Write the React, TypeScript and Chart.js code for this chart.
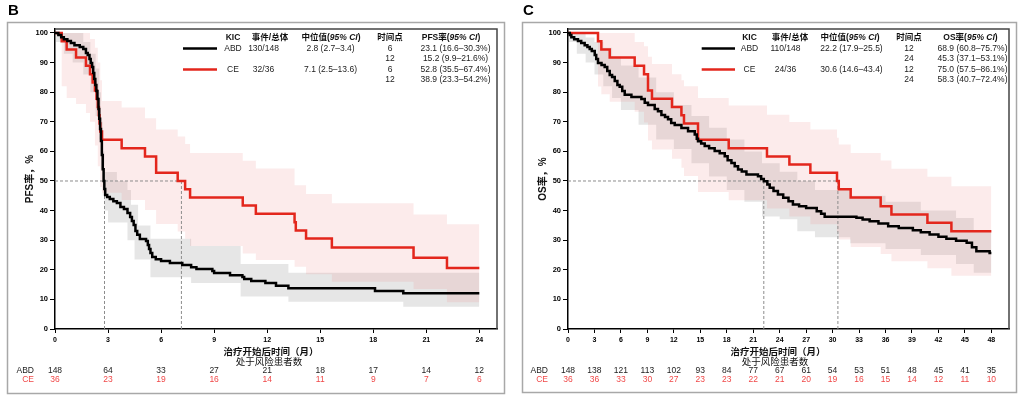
import React, { useEffect, useRef } from 'react';
import { Chart, registerables } from 'chart.js';
Chart.register(...registerables);

const FAM = "'Liberation Sans', 'Noto Sans CJK SC', sans-serif";
const RED = '#e3261c';
const RED_TXT = '#f04848';
const PINK = 'rgba(235,110,110,0.14)';
const GRAY = 'rgba(128,128,128,0.2)';

// ---------- Panel B : PFS ----------
const pfsAbdT = [0, 0.19, 0.35, 0.5, 0.7, 0.9, 1.1, 1.4, 1.6, 1.75, 1.85, 1.95, 2.02, 2.1, 2.16, 2.22, 2.28, 2.34, 2.4, 2.46, 2.5, 2.55, 2.6, 2.65, 2.7, 2.75, 2.79, 2.84, 2.95, 3.1, 3.3, 3.5, 3.7, 3.9, 4.1, 4.25, 4.35, 4.45, 4.55, 4.65, 4.8, 5.15, 5.25, 5.32, 5.4, 5.5, 5.7, 6.0, 6.5, 7.2, 7.7, 8.0, 8.9, 9.0, 9.9, 10.6, 10.7, 11.1, 11.9, 12.5, 13.2, 18.1, 19.7, 24];
const pfsAbdS = [100, 99.3, 98.6, 97.9, 97.3, 96.6, 95.9, 95.3, 94.6, 93.2, 92.6, 91.2, 89.9, 88.5, 86.5, 84.5, 82.4, 80.4, 77.7, 74.3, 71.0, 67.6, 63.5, 58.8, 54.0, 50.0, 47.3, 45.3, 44.6, 43.9, 43.2, 42.6, 41.2, 40.5, 39.2, 37.8, 36.5, 35.1, 33.1, 31.8, 30.4, 29.7, 28.4, 27.0, 25.7, 24.3, 23.6, 23.0, 22.3, 21.6, 20.9, 20.3, 19.6, 18.9, 18.2, 17.6, 16.9, 16.2, 15.5, 14.6, 13.8, 12.8, 12.1, 12.1];
const pfsCeT = [0, 0.38, 0.66, 1.19, 1.75, 1.98, 2.13, 2.26, 2.35, 2.42, 2.48, 2.52, 2.56, 2.66, 3.77, 5.09, 5.72, 6.94, 7.36, 7.64, 10.62, 11.36, 13.55, 13.62, 14.2, 15.66, 20.28, 22.17, 24];
const pfsCeS = [100, 97.2, 94.4, 91.7, 88.9, 86.1, 83.3, 80.6, 77.8, 75.0, 72.2, 69.4, 66.7, 63.9, 61.1, 58.3, 52.8, 50.0, 47.2, 44.4, 41.7, 38.9, 36.1, 33.3, 30.6, 27.5, 24.1, 20.6, 20.6];
const pfsAbdBandT = [0, 0.5, 1.0, 1.6, 2.0, 2.3, 2.5, 2.6, 2.7, 2.8, 3.0, 3.5, 4.1, 4.3, 4.5, 4.7, 5.4, 7.7, 10.5, 13.2, 19.7, 24];
const pfsAbdUpper = [100, 100, 100, 97, 93, 88, 80, 70, 60, 53, 53, 50, 47, 42, 42, 35, 30.5, 28, 22, 19, 19, 19];
const pfsAbdLower = [97, 93, 90, 86, 80, 72, 64, 54, 45, 40, 36, 36, 30, 30, 23.5, 23.5, 17.5, 15.5, 11, 9.2, 7.5, 7.5];
const pfsCeBandT = [0, 0.38, 0.66, 1.19, 1.75, 1.98, 2.26, 2.42, 2.56, 2.66, 3.77, 5.09, 5.72, 6.94, 7.36, 7.64, 10.62, 11.36, 13.55, 14.2, 15.66, 20.28, 22.17, 24];
const pfsCeUpper = [100, 100, 100, 100, 100, 98, 95, 90, 84, 77, 74.8, 71.2, 67.4, 65, 62.5, 59.5, 56.8, 54.2, 48.6, 45.6, 42.5, 38.7, 35.4, 35.4];
const pfsCeLower = [100, 82, 78, 76, 73, 70, 62, 55, 48, 46, 43.6, 40.2, 35.5, 32.9, 30.5, 28, 25.5, 23.3, 21, 18.5, 16, 13.5, 9, 9];
const pfsMedians = [2.8, 7.15];
const pfsRiskTimes = [0, 3, 6, 9, 12, 15, 18, 21, 24];
const pfsRiskAbd = [148, 64, 33, 27, 21, 18, 17, 14, 12];
const pfsRiskCe = [36, 23, 19, 16, 14, 11, 9, 7, 6];
const pfsHeaders = ['KIC', '事件/总体', '中位值', '时间点', 'PFS率'];
const pfsEvents = ['130/148', '32/36'];
const pfsMedianTxt = ['2.8 (2.7–3.4)', '7.1 (2.5–13.6)'];
const pfsTimepoints = [['6', '12'], ['6', '12']];
const pfsRates = [['23.1 (16.6–30.3%)', '15.2 (9.9–21.6%)'], ['52.8 (35.5–67.4%)', '38.9 (23.3–54.2%)']];

// ---------- Panel C : OS ----------
const osAbdT = [0, 0.2, 0.38, 0.7, 1.13, 1.5, 1.89, 2.2, 2.46, 2.7, 3.03, 3.2, 3.4, 3.8, 4.16, 4.45, 4.73, 5.0, 5.3, 5.6, 5.86, 6.15, 6.43, 7.19, 8.32, 8.7, 9.07, 9.83, 10.2, 10.59, 11.0, 11.34, 11.7, 12.1, 12.86, 13.61, 14.37, 14.6, 14.74, 15.1, 15.5, 16.0, 16.63, 17.2, 17.77, 18.1, 18.53, 18.9, 19.28, 19.7, 20.23, 21.54, 21.9, 22.2, 22.6, 22.87, 23.3, 23.8, 24.4, 25.0, 25.5, 26.2, 27.0, 28.2, 28.7, 29.1, 32.7, 33.4, 34.2, 35.2, 36.3, 37.5, 39.1, 40.0, 41.0, 42.0, 42.9, 44.0, 45.2, 45.8, 46.3, 47.8, 48];
const osAbdS = [100, 99.3, 98.6, 97.9, 97.3, 96.6, 95.9, 95.3, 94.6, 93.9, 92.6, 91.2, 89.9, 89.2, 88.5, 87.2, 85.8, 85.1, 83.8, 82.4, 81.8, 80.4, 79.1, 78.4, 77.7, 76.4, 75.7, 74.3, 73.6, 72.3, 71.6, 70.9, 69.6, 68.9, 67.9, 66.8, 65.7, 64.3, 63.4, 62.7, 61.8, 61.1, 60.1, 59.4, 58.4, 57.0, 56.1, 55.0, 53.9, 53.2, 52.2, 51.6, 50.7, 49.9, 48.8, 47.7, 46.6, 45.4, 44.3, 43.2, 42.1, 41.5, 40.9, 39.8, 38.9, 37.9, 37.6, 37.0, 36.4, 35.6, 34.7, 34.1, 33.4, 32.7, 31.9, 31.2, 30.5, 29.8, 29.1, 27.6, 26.3, 25.7, 25.7];
const osCeT = [0, 3.4, 3.78, 4.73, 7.56, 8.62, 9.07, 9.52, 11.79, 12.86, 13.15, 14.74, 18.22, 22.56, 25.1, 27.48, 30.5, 30.7, 32.05, 35.45, 36.67, 40.75, 43.47, 48];
const osCeS = [100, 97.2, 94.4, 91.7, 88.9, 86.1, 80.6, 77.8, 75.0, 72.2, 69.4, 63.9, 61.1, 58.3, 55.6, 52.8, 50.0, 47.2, 44.4, 41.5, 38.7, 35.9, 33.0, 33.0];
const osAbdBandT = [0, 1, 2, 3, 4, 5, 6, 8, 10, 12, 14, 16, 18, 20, 22, 24, 26, 28, 32, 36, 40, 44, 46, 48];
const osAbdUpper = [100, 100, 98.5, 97, 95, 92, 89, 85, 80, 75.7, 72, 68, 64, 60, 56, 53.1, 50, 47, 45, 43, 40, 37.5, 33, 33];
const osAbdLower = [97, 93, 90, 86, 82, 78, 74, 69, 64, 60.8, 56, 51.5, 47, 43, 38, 37.1, 33, 31, 29, 27, 25, 22, 19, 19];
const osCeBandT = [0, 3.4, 3.78, 4.73, 7.56, 8.62, 9.07, 9.52, 11.79, 12.86, 13.15, 14.74, 18.22, 22.56, 25.1, 27.48, 30.5, 30.7, 32.05, 35.45, 36.67, 40.75, 43.47, 48];
const osCeUpper = [100, 100, 100, 100, 97, 95.5, 92, 89.5, 86.1, 84, 82, 78, 75.5, 72.4, 69.9, 67.4, 64.6, 62.3, 59.5, 56.9, 54.1, 51.4, 48.2, 48.2];
const osCeLower = [100, 81.9, 79.3, 76.8, 73.4, 69.8, 63.7, 60.6, 57.5, 54.5, 51.7, 46.3, 43.5, 40.7, 38, 35.4, 32.7, 30.2, 27.7, 25.3, 22.9, 20.5, 18, 18];
const osMedians = [22.2, 30.6];
const osRiskTimes = [0, 3, 6, 9, 12, 15, 18, 21, 24, 27, 30, 33, 36, 39, 42, 45, 48];
const osRiskAbd = [148, 138, 121, 113, 102, 93, 84, 77, 67, 61, 54, 53, 51, 48, 45, 41, 35];
const osRiskCe = [36, 36, 33, 30, 27, 23, 23, 22, 21, 20, 19, 16, 15, 14, 12, 11, 10];
const osHeaders = ['KIC', '事件/总体', '中位值', '时间点', 'OS率'];
const osEvents = ['110/148', '24/36'];
const osMedianTxt = ['22.2 (17.9–25.5)', '30.6 (14.6–43.4)'];
const osTimepoints = [['12', '24'], ['12', '24']];
const osRates = [['68.9 (60.8–75.7%)', '45.3 (37.1–53.1%)'], ['75.0 (57.5–86.1%)', '58.3 (40.7–72.4%)']];

const groups = ['ABD', 'CE'];
const xTitle = '治疗开始后时间（月）';
const riskTitle = '处于风险患者数';

const zip = (t: number[], v: number[]) => t.map((x, i) => ({ x, y: v[i] }));

type Cfg = any;

const pfsCfg: Cfg = {
  letter: 'B', yTitle: 'PFS率，%', xMax: 25, yAxisW: 55,
  frame: [7.5, 22.5, 497, 371],
  abdT: pfsAbdT, abdS: pfsAbdS, ceT: pfsCeT, ceS: pfsCeS,
  abdBT: pfsAbdBandT, abdU: pfsAbdUpper, abdL: pfsAbdLower,
  ceBT: pfsCeBandT, ceU: pfsCeUpper, ceL: pfsCeLower,
  medians: pfsMedians, riskT: pfsRiskTimes, riskAbd: pfsRiskAbd, riskCe: pfsRiskCe,
  headers: pfsHeaders, events: pfsEvents, medTxt: pfsMedianTxt, tps: pfsTimepoints, rates: pfsRates,
  lay: { yTitleX: 30, xTitleX: 271, riskTitleX: 269, riskLabelX: 34, line: [183, 217], kic: 233, evtH: 270, evtD: 263.5, medH: 331, medD: 330.5, tp: 390, rateH: 451, rateD: 455.5 },
};
const osCfg: Cfg = {
  letter: 'C', yTitle: 'OS率，%', xMax: 50, yAxisW: 56,
  frame: [10.5, 22.5, 494, 370],
  abdT: osAbdT, abdS: osAbdS, ceT: osCeT, ceS: osCeS,
  abdBT: osAbdBandT, abdU: osAbdUpper, abdL: osAbdLower,
  ceBT: osCeBandT, ceU: osCeUpper, ceL: osCeLower,
  medians: osMedians, riskT: osRiskTimes, riskAbd: osRiskAbd, riskCe: osRiskCe,
  headers: osHeaders, events: osEvents, medTxt: osMedianTxt, tps: osTimepoints, rates: osRates,
  lay: { yTitleX: 31, xTitleX: 266, riskTitleX: 263, riskLabelX: 36, line: [189.7, 223], kic: 237.5, evtH: 278, evtD: 273.5, medH: 338, medD: 339.5, tp: 397, rateH: 458.5, rateD: 460.5 },
};

function richCentered(ctx: CanvasRenderingContext2D, parts: { t: string; f: string }[], cx: number, y: number) {
  let w = 0;
  parts.forEach((p) => { ctx.font = p.f; w += ctx.measureText(p.t).width; });
  let x = cx - w / 2;
  ctx.textAlign = 'left';
  parts.forEach((p) => { ctx.font = p.f; ctx.fillText(p.t, x, y); x += ctx.measureText(p.t).width; });
}

function makePlugin(cfg: Cfg) {
  return {
    id: 'decor' + cfg.letter,
    afterDraw(chart: any) {
      const ctx: CanvasRenderingContext2D = chart.ctx;
      const ca = chart.chartArea;
      const xs = chart.scales.x;
      const L = cfg.lay;
      ctx.save();
      // outer frame
      ctx.strokeStyle = '#a8a8a8';
      ctx.lineWidth = 1.5;
      const [fx, fy, fw, fh] = cfg.frame;
      ctx.strokeRect(fx, fy, fw, fh);
      // panel letter
      ctx.fillStyle = '#000';
      ctx.font = `bold 15px ${FAM}`;
      ctx.textAlign = 'left';
      ctx.textBaseline = 'alphabetic';
      ctx.fillText(cfg.letter, fx + 0.5, 15);
      // plot box top/right
      ctx.strokeStyle = '#444';
      ctx.lineWidth = 1.5;
      ctx.beginPath();
      ctx.moveTo(ca.left, ca.top);
      ctx.lineTo(ca.right, ca.top);
      ctx.lineTo(ca.right, ca.bottom);
      ctx.stroke();
      // y title
      ctx.save();
      ctx.translate(L.yTitleX, (ca.top + ca.bottom) / 2);
      ctx.rotate(-Math.PI / 2);
      ctx.font = `bold 10px ${FAM}`;
      ctx.textAlign = 'center';
      ctx.textBaseline = 'middle';
      ctx.fillStyle = '#111';
      ctx.fillText(cfg.yTitle, 0, 0);
      ctx.restore();
      // x title & risk title
      ctx.textBaseline = 'middle';
      ctx.textAlign = 'center';
      ctx.fillStyle = '#111';
      ctx.font = `bold 9.5px ${FAM}`;
      ctx.fillText(xTitle, L.xTitleX, 352);
      ctx.font = `9.5px ${FAM}`;
      ctx.fillText(riskTitle, L.riskTitleX, 362);
      // at-risk numbers
      ctx.font = `8.5px ${FAM}`;
      const rows = [cfg.riskAbd, cfg.riskCe];
      const rowY = [371, 379.5];
      rows.forEach((vals: number[], r: number) => {
        ctx.fillStyle = r === 0 ? '#222' : RED_TXT;
        ctx.textAlign = 'right';
        ctx.fillText(groups[r], L.riskLabelX, rowY[r]);
        ctx.textAlign = 'center';
        vals.forEach((v, i) => ctx.fillText(String(v), xs.getPixelForValue(cfg.riskT[i]), rowY[r]));
      });
      // legend table
      const hy = 38;
      const ry = [48.5, 59, 69.5, 80];
      ctx.fillStyle = '#111';
      const hb = `bold 8.5px ${FAM}`;
      const hbi = `italic bold 8.5px ${FAM}`;
      ctx.font = hb;
      ctx.textAlign = 'center';
      ctx.fillText(cfg.headers[0], L.kic, hy);
      ctx.fillText(cfg.headers[1], L.evtH, hy);
      richCentered(ctx, [{ t: cfg.headers[2] + '(', f: hb }, { t: '95% CI', f: hbi }, { t: ')', f: hb }], L.medH, hy);
      ctx.font = hb;
      ctx.textAlign = 'center';
      ctx.fillText(cfg.headers[3], L.tp, hy);
      richCentered(ctx, [{ t: cfg.headers[4] + '(', f: hb }, { t: '95% CI', f: hbi }, { t: ')', f: hb }], L.rateH, hy);
      ctx.font = `8.5px ${FAM}`;
      ctx.textAlign = 'center';
      ctx.fillStyle = '#222';
      groups.forEach((g, gi) => {
        const y0 = ry[gi * 2];
        ctx.strokeStyle = gi === 0 ? '#000' : RED;
        ctx.lineWidth = 2.5;
        ctx.beginPath();
        ctx.moveTo(L.line[0], y0);
        ctx.lineTo(L.line[1], y0);
        ctx.stroke();
        ctx.fillText(g, L.kic, y0);
        ctx.fillText(cfg.events[gi], L.evtD, y0);
        ctx.fillText(cfg.medTxt[gi], L.medD, y0);
        cfg.tps[gi].forEach((t: string, k: number) => ctx.fillText(t, L.tp, ry[gi * 2 + k]));
        cfg.rates[gi].forEach((t: string, k: number) => ctx.fillText(t, L.rateD, ry[gi * 2 + k]));
      });
      ctx.restore();
    },
  };
}

function KMPanel({ cfg, left }: { cfg: Cfg; left: number }) {
  const ref = useRef<HTMLCanvasElement>(null);
  useEffect(() => {
    if (!ref.current) return;
    const medMax = Math.max(...cfg.medians);
    const dash = { borderColor: '#8c8c8c', borderWidth: 1, borderDash: [3, 2], pointRadius: 0, fill: false };
    const chart = new Chart(ref.current, {
      type: 'line',
      data: {
        datasets: [
          { label: 'ABD', data: zip(cfg.abdT, cfg.abdS), borderColor: '#000', borderWidth: 2.5, stepped: true, pointRadius: 0, fill: false },
          { label: 'CE', data: zip(cfg.ceT, cfg.ceS), borderColor: RED, borderWidth: 2.5, stepped: true, pointRadius: 0, fill: false },
          { label: 'm', data: [{ x: 0, y: 50 }, { x: medMax, y: 50 }], ...dash },
          ...cfg.medians.map((m: number) => ({ label: 'v', data: [{ x: m, y: 50 }, { x: m, y: 0 }], ...dash })),
          { label: 'ceU', data: zip(cfg.ceBT, cfg.ceU), borderWidth: 0, borderColor: 'transparent', stepped: true, pointRadius: 0, fill: false },
          { label: 'ceL', data: zip(cfg.ceBT, cfg.ceL), borderWidth: 0, borderColor: 'transparent', stepped: true, pointRadius: 0, fill: '-1', backgroundColor: PINK },
          { label: 'abdU', data: zip(cfg.abdBT, cfg.abdU), borderWidth: 0, borderColor: 'transparent', stepped: true, pointRadius: 0, fill: false },
          { label: 'abdL', data: zip(cfg.abdBT, cfg.abdL), borderWidth: 0, borderColor: 'transparent', stepped: true, pointRadius: 0, fill: '-1', backgroundColor: GRAY },
        ] as any,
      },
      options: {
        responsive: false,
        animation: false,
        maintainAspectRatio: false,
        layout: { padding: { left: 0, right: 15, top: 29, bottom: 49 } },
        plugins: { legend: { display: false }, tooltip: { enabled: false } },
        scales: {
          x: {
            type: 'linear', min: 0, max: cfg.xMax,
            ticks: { stepSize: 3, includeBounds: false, autoSkip: false, maxRotation: 0, padding: 3, color: '#000', font: { family: FAM, size: 7, weight: 'bold' } },
            grid: { drawOnChartArea: false, tickLength: 4, color: '#000' },
            border: { color: '#000', width: 1.5 },
            afterFit: (s: any) => { s.height = 20; },
          },
          y: {
            min: 0, max: 101.35,
            ticks: { stepSize: 10, includeBounds: false, padding: 2, color: '#000', font: { family: FAM, size: 7.5, weight: 'bold' } },
            grid: { drawOnChartArea: false, tickLength: 5, color: '#000' },
            border: { color: '#000', width: 1.5 },
            afterFit: (s: any) => { s.width = cfg.yAxisW; },
          },
        },
      } as any,
      plugins: [makePlugin(cfg)],
    });
    return () => chart.destroy();
  }, [cfg]);
  return (
    <canvas
      ref={ref}
      width={512}
      height={398}
      style={{ position: 'absolute', left, top: 0, width: 512, height: 398, display: 'block' }}
    />
  );
}

export default function App() {
  return (
    <div style={{ position: 'fixed', left: 0, top: 0, width: 1024, height: 398, overflow: 'hidden', background: '#fff' }}>
      <KMPanel cfg={pfsCfg} left={0} />
      <KMPanel cfg={osCfg} left={512} />
    </div>
  );
}
